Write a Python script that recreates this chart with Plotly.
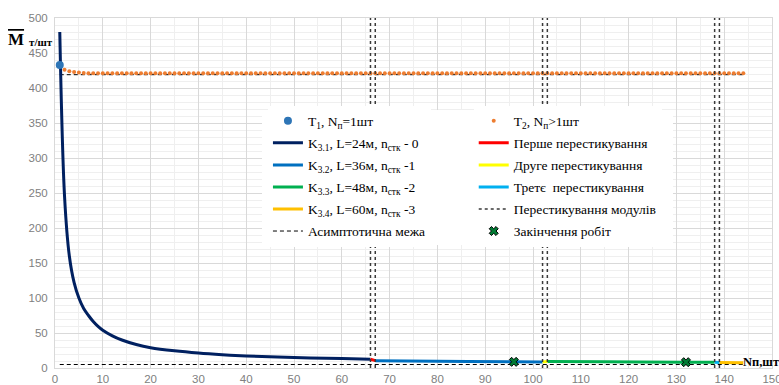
import plotly.graph_objects as go

# ---- data ----
k31_n = [1, 2, 3, 4, 5, 6, 7, 8, 9, 10, 12, 14, 17, 20, 25, 30, 35, 40, 50, 60, 66]
k31_m = [480, 245, 160, 122, 100, 85, 75, 66.5, 59.5, 54, 46, 40, 33.5, 29, 24.5, 21.3, 19, 17.3, 15, 13.4, 12.5]

k32_n = [67, 80, 96, 102]
k32_m = [10.5, 9.6, 8.8, 8.5]

k33_n = [103, 115, 132, 138]
k33_m = [9.2, 8.8, 8.3, 8.1]

k34_n = [139, 144]
k34_m = [7.8, 7.6]

swap1_n = [66, 67]
swap1_m = [12.5, 10.5]
swap2_n = [102, 103]
swap2_m = [8.5, 9.2]
swap3_n = [138, 139]
swap3_m = [8.1, 7.8]

t1_n = [1]
t1_m = [433]

t2_head = [426, 424, 423, 422, 421.5]
t2_tail_value = 421
t2_n = list(range(2, 145))
t2_m = t2_head + [t2_tail_value] * (len(t2_n) - len(t2_head))

asym_n = [1, 144]
asym_top = [419, 419]
asym_bottom = [5, 5]

module_swap_n = [66, 67, 102, 103, 138, 139]
y_span = [0, 500]

end_n = [96, 132]
end_m = [8.8, 8.3]

x_ticks = list(range(0, 151, 10))
y_ticks = list(range(0, 501, 50))

SERIF = "Liberation Serif"

# plot-area geometry (pixels) and the legend box
PL, PR, PT, PB = 55, 772, 18, 368
BOX_L, BOX_R, BOX_T, BOX_B = 262, 673, 110, 245
X_RANGE = [0, 150]
Y_RANGE = [0, 500]

def px_to_x(p):
    return X_RANGE[0] + (p - PL) / (PR - PL) * (X_RANGE[1] - X_RANGE[0])

def py_to_y(p):
    return Y_RANGE[0] + (PB - p) / (PB - PT) * (Y_RANGE[1] - Y_RANGE[0])

box_x0, box_x1 = px_to_x(BOX_L), px_to_x(BOX_R)
box_y0, box_y1 = py_to_y(BOX_B), py_to_y(BOX_T)

fig = go.Figure()

def add_line(x, y, color, name, legend, width=3, dash="solid", shape="spline"):
    fig.add_trace(go.Scatter(x=x, y=y, mode="lines", name=name, legend=legend,
                             legendgroup=name,
                             line=dict(color=color, width=width, dash=dash, shape=shape,
                                       smoothing=1.0 if shape == "spline" else None)))

SWAP_LINE = dict(color="#3a3a3a", width=1.5, dash="dot")

# vertical swap lines as data-referenced shapes, interrupted behind the legend panel
shapes = [dict(type="rect", xref="paper", yref="paper",
               x0=(BOX_L - PL) / (PR - PL), x1=(BOX_R - PL) / (PR - PL),
               y0=(PB - BOX_B) / (PB - PT), y1=(PB - BOX_T) / (PB - PT),
               fillcolor="#ffffff", line=dict(width=0), layer="above")]
for n in module_swap_n:
    if box_x0 < n < box_x1:
        spans = [(y_span[0], box_y0), (box_y1, y_span[1])]
    else:
        spans = [(y_span[0], y_span[1])]
    for lo, hi in spans:
        shapes.append(dict(type="line", xref="x", yref="y", x0=n, x1=n,
                           y0=lo, y1=hi, line=SWAP_LINE, layer="above"))

# asymptotes
fig.add_trace(go.Scatter(x=asym_n, y=asym_top, mode="lines", name="Асимптотична межа",
                         legend="legend", legendgroup="asym",
                         line=dict(color="#000000", width=1, dash="4px,3px")))
fig.add_trace(go.Scatter(x=asym_n, y=asym_bottom, mode="lines", showlegend=False,
                         line=dict(color="#000000", width=1, dash="4px,3px")))

# legend entry for the swap lines
fig.add_trace(go.Scatter(x=[None], y=[None], mode="lines", name="Перестикування модулів",
                         legend="legend2", legendgroup="vs", line=SWAP_LINE))

# main curves
add_line(k31_n, k31_m, "#002060", "K<sub>3.1</sub>, L=24м, n<sub>стк</sub> - 0", "legend")
add_line(k32_n, k32_m, "#0070C0", "K<sub>3.2</sub>, L=36м, n<sub>стк</sub> -1", "legend")
add_line(k33_n, k33_m, "#00B050", "K<sub>3.3</sub>, L=48м, n<sub>стк</sub> -2", "legend")
add_line(k34_n, k34_m, "#FFC000", "K<sub>3.4</sub>, L=60м, n<sub>стк</sub> -3", "legend")

add_line(swap1_n, swap1_m, "#FF0000", "Перше перестикування", "legend2", shape="linear")
add_line(swap2_n, swap2_m, "#FFFF00", "Друге перестикування", "legend2", shape="linear")
add_line(swap3_n, swap3_m, "#00B0F0", "Третє  перестикування", "legend2", shape="linear")

# points
fig.add_trace(go.Scatter(x=t2_n, y=t2_m, mode="markers", name="T<sub>2</sub>, N<sub>п</sub>>1шт",
                         legend="legend2", legendgroup="t2",
                         marker=dict(color="#ED7D31", size=4)))
fig.add_trace(go.Scatter(x=t1_n, y=t1_m, mode="markers", name="T<sub>1</sub>, N<sub>п</sub>=1шт",
                         legend="legend", legendgroup="t1",
                         marker=dict(color="#2E75B6", size=8)))
fig.add_trace(go.Scatter(x=end_n, y=end_m, mode="markers", name="Закінчення робіт",
                         legend="legend2", legendgroup="end",
                         marker=dict(symbol="x", color="#007A33", size=8,
                                     line=dict(color="#000000", width=1))))

# order legend entries
order1 = ["T<sub>1</sub>, N<sub>п</sub>=1шт",
          "K<sub>3.1</sub>, L=24м, n<sub>стк</sub> - 0",
          "K<sub>3.2</sub>, L=36м, n<sub>стк</sub> -1",
          "K<sub>3.3</sub>, L=48м, n<sub>стк</sub> -2",
          "K<sub>3.4</sub>, L=60м, n<sub>стк</sub> -3",
          "Асимптотична межа"]
order2 = ["T<sub>2</sub>, N<sub>п</sub>>1шт", "Перше перестикування", "Друге перестикування",
          "Третє  перестикування", "Перестикування модулів", "Закінчення робіт"]
for tr in fig.data:
    if tr.name in order1:
        tr.legendrank = order1.index(tr.name) + 1
    elif tr.name in order2:
        tr.legendrank = order2.index(tr.name) + 1

grid_major = "#d9d9d9"
grid_minor = "#efefef"
tick_font = dict(family="Liberation Sans", size=11.5, color="#808080")

legend_common = dict(bgcolor="#ffffff", borderwidth=0,
                     font=dict(family=SERIF, size=13.5, color="#000000"),
                     itemwidth=30, tracegroupgap=1.5, traceorder="grouped",
                     xanchor="left", yanchor="top", orientation="v")

fig.update_layout(
    width=779, height=385,
    font=dict(family=SERIF),
    margin=dict(l=PL, r=779 - PR, t=PT, b=385 - PB),
    paper_bgcolor="#ffffff", plot_bgcolor="#ffffff",
    xaxis=dict(range=X_RANGE, tickvals=x_ticks, showgrid=True, gridcolor=grid_major, gridwidth=1,
               minor=dict(dtick=5, showgrid=True, gridcolor=grid_minor),
               zeroline=False, showline=True, linecolor=grid_major, mirror=True,
               tickfont=tick_font, ticks="", ticklen=0, automargin=False,
               ticklabeloverflow="allow"),
    yaxis=dict(range=Y_RANGE, tickvals=y_ticks, showgrid=True, gridcolor=grid_major, gridwidth=1,
               minor=dict(dtick=10, showgrid=True, gridcolor=grid_minor),
               zeroline=False, showline=True, linecolor=grid_major, mirror=True,
               tickfont=tick_font, ticks="", ticklabelstandoff=4, automargin=False),
    legend=dict(x=0.297, y=0.75, **legend_common),
    legend2=dict(x=0.584, y=0.75, **legend_common),
    showlegend=True,
    hovermode=False,
    shapes=shapes,
    annotations=[
        dict(xref="paper", yref="paper", x=-0.068, y=0.94, xanchor="left", yanchor="middle",
             showarrow=False,
             text='<span style="text-decoration:overline"><b>M</b></span>',
             font=dict(family=SERIF, size=17, color="#000000")),
        dict(xref="paper", yref="paper", x=-0.039, y=0.932, xanchor="left", yanchor="middle",
             showarrow=False, text="<b>т/шт</b>",
             font=dict(family=SERIF, size=11, color="#000000")),
        dict(xref="paper", yref="paper", x=0.957, y=0.018, xanchor="left", yanchor="middle",
             showarrow=False, text="<b>Nп,шт</b>",
             font=dict(family=SERIF, size=12.5, color="#000000")),
    ],
)

fig.write_html("out.html", config={"displayModeBar": False},
               post_script="document.body.style.margin='0';document.body.style.padding='0';")
